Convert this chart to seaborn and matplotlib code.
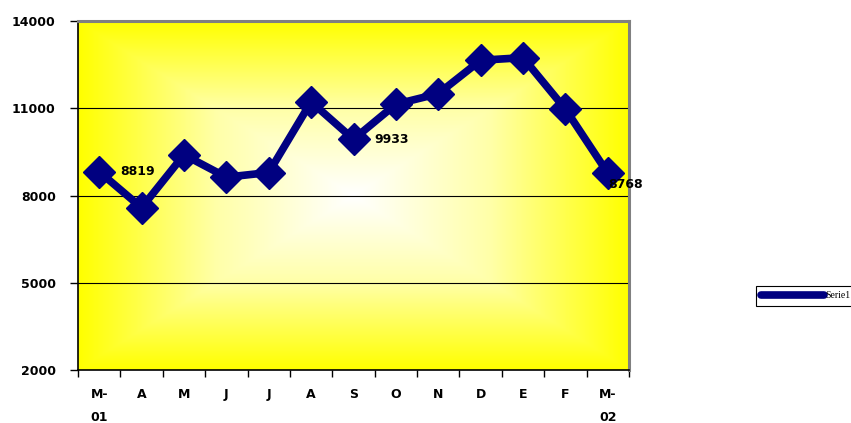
import numpy as np
import matplotlib
matplotlib.use("Agg")
import matplotlib.pyplot as plt
import seaborn as sns
import pandas as pd
from matplotlib.colors import LinearSegmentedColormap
from matplotlib.ticker import FixedLocator

categories = ["M-\n01", "A", "M", "J", "J", "A", "S", "O", "N", "D", "E", "F", "M-\n02"]
values = [8819, 7580, 9400, 8630, 8790, 11220, 9933, 11140, 11500, 12650, 12740, 10970, 8768]
labeled = {0: "8819", 6: "9933", 12: "8768"}
yticks = [2000, 5000, 8000, 11000, 14000]
series_name = "Serie1"

sns.set_theme(style="white")
plt.rcParams['font.family'] = ['DejaVu Sans']
plt.rcParams['text.color'] = 'black'
plt.rcParams['xtick.color'] = 'black'
plt.rcParams['ytick.color'] = 'black'
plt.rcParams['axes.labelcolor'] = 'black'

fig = plt.figure(figsize=(8.51, 4.23), dpi=100)
ax = fig.add_axes([78/851, 1-370/423, (629-78)/851, (370-21)/423])

# gradient background
nx, ny = 400, 300
xx, yy = np.meshgrid(np.linspace(0, 1, nx), np.linspace(0, 1, ny))
dx = np.abs(xx - 0.5) / 0.5
dy = np.abs(yy - 0.5) / 0.5
t = np.clip(np.maximum(dx, dy), 0, 1)
cmap = LinearSegmentedColormap.from_list("yw", ["#FFFFFF", "#FFFFA8", "#FFFF00"])
ax.imshow(t, cmap=cmap, extent=[0, 1, 0, 1], transform=ax.transAxes,
          aspect="auto", zorder=0, vmin=0, vmax=1, interpolation="bilinear")

df = pd.DataFrame({"x": np.arange(len(values)), "y": values, "s": series_name})
sns.lineplot(data=df, x="x", y="y", hue="s", palette=["#000080"], ax=ax,
             linewidth=5.5, marker="D", markersize=16, markeredgecolor="#000080",
             markeredgewidth=1, zorder=3)

for i, txt in labeled.items():
    off = (15, 0) if i != 12 else (0, -8)
    ax.annotate(txt, (i, values[i]), xytext=off, textcoords="offset points",
                ha="left", va="center", fontsize=9, fontweight="bold",
                color="black", zorder=5)

ax.set_xlim(-0.5, len(values) - 0.5)
ax.set_ylim(2000, 14000)
ax.set_yticks(yticks)
ax.set_yticklabels([str(v) for v in yticks], fontsize=9, fontweight="bold")
for v in yticks[1:-1]:
    ax.axhline(v, color="black", lw=0.8, zorder=1)

ax.set_xticks(np.arange(len(values)))
ax.set_xticklabels(categories, fontsize=9, fontweight="bold", linespacing=2.0, va="top")
ax.xaxis.set_minor_locator(FixedLocator(np.arange(-0.5, len(values), 1.0)))
ax.tick_params(axis="x", which="major", length=0, pad=13)
ax.tick_params(axis="x", which="minor", length=5, width=1, color="black", direction="out", bottom=True)
ax.tick_params(axis="y", which="major", length=6, width=1, color="black", direction="out", left=True, pad=10)
ax.set_xlabel("")
ax.set_ylabel("")

for s in ["left", "bottom"]:
    ax.spines[s].set_color("black")
    ax.spines[s].set_linewidth(1.2)
for s in ["top", "right"]:
    ax.spines[s].set_color("#808080")
    ax.spines[s].set_linewidth(2.2)

ax.get_legend().remove()
handles = [plt.Line2D([], [], color="#000080", lw=5.5, solid_capstyle="round")]
leg = fig.legend(handles, [series_name], loc="upper left",
                 bbox_to_anchor=(751/851, 1-281/423), frameon=True, fancybox=False,
                 edgecolor="black", framealpha=1, handlelength=6.5,
                 borderpad=0.55, handletextpad=0.1,
                 prop={"family": "Liberation Serif", "size": 7})
leg.get_frame().set_linewidth(0.8)

fig.savefig("out.png", dpi=100)
